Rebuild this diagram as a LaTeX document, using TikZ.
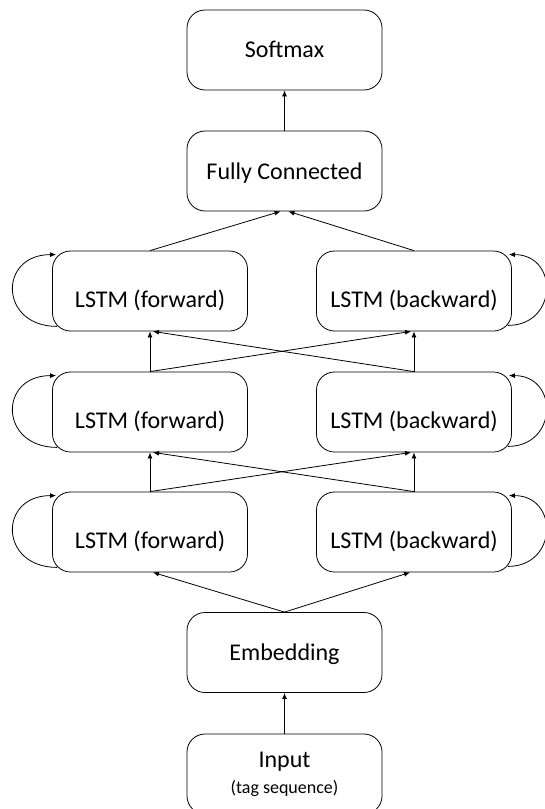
\documentclass[tikz,border=0pt]{standalone}
\usepackage{fontspec}
\setmainfont{Carlito}
\usetikzlibrary{arrows.meta}

\begin{document}
\begin{tikzpicture}[x=1bp,y=-1bp,
  box/.style={draw,line width=0.8bp,rounded corners=18bp,minimum width=195bp,
    minimum height=80bp,inner sep=0pt,font=\fontsize{24bp}{28bp}\selectfont},
  layer/.style={box,text height=22bp,text depth=6bp},
  lstm/.style={box,text height=38bp,text depth=5bp},
  link/.style={line width=0.8bp,-{Latex[length=6bp,width=5bp]}}]
\useasboundingbox (0,0) rectangle (545,809);
% layers, top to bottom
\node [layer] (sm) at (284.5,50) {Softmax};
\node [layer] (fc) at (284.5,171) {Fully Connected};
\node [lstm] (f1) at (150,291) {LSTM (forward)};
\node [lstm] (b1) at (414,291) {LSTM (backward)};
\node [lstm] (f2) at (150,412) {LSTM (forward)};
\node [lstm] (b2) at (414,412) {LSTM (backward)};
\node [lstm] (f3) at (150,532) {LSTM (forward)};
\node [lstm] (b3) at (414,532) {LSTM (backward)};
\node [layer] (emb) at (284.5,652.5) {Embedding};
\node [box,align=center] (inp) at (284.5,774)
  {Input\\[-2bp]{\fontsize{18bp}{20bp}\selectfont (tag sequence)}};

\draw [link] (inp.north) -- (emb.south);
\draw [link] (emb.north) -- ([xshift=3]f3.south);
\draw [link] (emb.north) -- ([xshift=-4]b3.south);
% stacked bi-lstm: straight up and crossed over
\foreach \lo/\hi in {3/2,2/1} {
  \draw [link] (f\lo.north) -- (f\hi.south);
  \draw [link] (b\lo.north) -- (b\hi.south);
  \draw [link] (f\lo.north) -- ([xshift=-3]b\hi.south);
  \draw [link] (b\lo.north) -- ([xshift=3]f\hi.south);
}
\draw [link] (f1.north) -- ([xshift=-4]fc.south);
\draw [link] (b1.north) -- ([xshift=4]fc.south);
\draw [link] (fc.north) -- (sm.south);
% recurrent loops
\foreach \r in {1,2,3} {
  \draw [link] ([shift={(5,-5)}]f\r.south west) .. controls +(-58,0) and +(-58,0)
    .. ([shift={(4,4)}]f\r.north west);
  \draw [link] ([shift={(-4,-6)}]b\r.south east) .. controls +(50,0) and +(50,0)
    .. ([shift={(-3,4)}]b\r.north east);
}
\end{tikzpicture}
\end{document}
